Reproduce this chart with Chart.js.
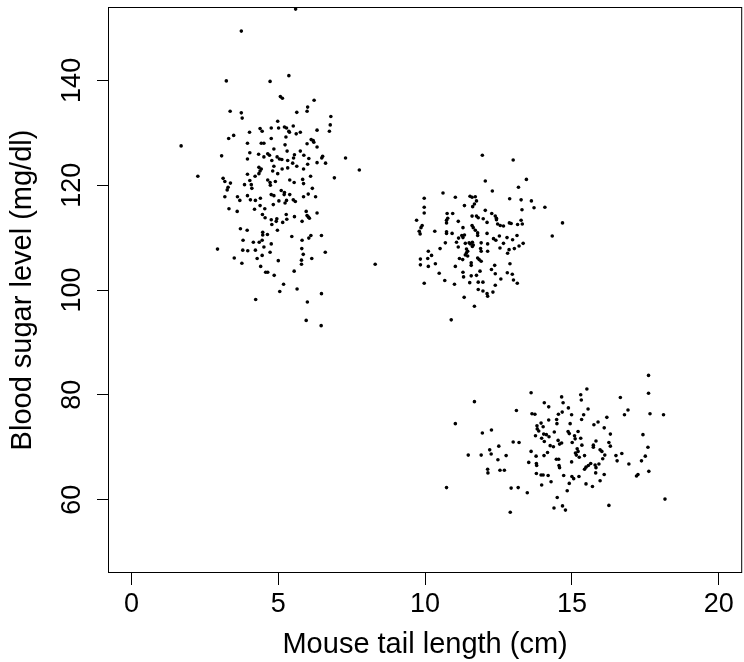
<!DOCTYPE html>
<html>
<head>
<meta charset="utf-8">
<title>Mouse tail length vs blood sugar</title>
<script src="https://cdn.jsdelivr.net/npm/chart.js@4.4.1/dist/chart.umd.min.js"></script>
<style>
  html, body { margin:0; padding:0; background:#fff; }
  #plot { display:block; }
</style>
</head>
<body>
<canvas id="plot" width="744" height="662"></canvas>
<script>
// ---------- DATA ----------
const xTicks = [0, 5, 10, 15, 20];
const yTicks = [60, 80, 100, 120, 140];

// group 1: short tails, high sugar
const tailA = [
  3.74,3.23,3.36,3.74,3.77,1.69,4.38,4.45,4.02,3.48,3.31,3.95,4.42,4.51,3.07,4.03,4.33,4.51,4.64,3.95,4.34,4.42,
  5.59,4.72,5.36,5.07,5.14,6.22,6.00,5.98,5.63,6.79,6.77,6.74,4.98,4.76,5.01,5.21,5.28,5.36,5.38,5.51,5.61,5.75,
  5.26,4.76,6.32,6.12,6.19,6.21,5.98,5.23,6.32,4.85,4.70,5.30,5.75,5.55,5.52,5.87,4.96,5.04,5.12,6.04,6.51,6.48,
  7.29,4.78,5.32,6.32,6.61,5.49,5.63,6.00,4.85,5.13,5.32,5.86,7.76,
  2.26,4.38,3.95,4.21,4.34,3.12,3.18,3.37,4.03,4.08,3.85,4.64,3.29,3.26,4.10,3.18,3.61,3.69,3.95,4.05,4.22,4.39,
  3.32,3.60,4.19,4.38,4.54,4.46,4.55,3.71,3.94,4.47,4.47,4.63,3.80,4.15,4.35,4.45,2.93,3.79,3.96,4.22,4.51,3.50,
  4.28,4.45,3.76,4.40,4.57,4.64,4.23,
  4.81,4.98,6.10,6.91,4.72,4.73,4.90,5.39,5.54,5.83,5.86,6.16,5.10,5.21,5.20,5.39,6.02,5.86,6.27,4.76,4.85,5.02,
  4.83,5.28,5.23,5.51,5.58,5.95,6.32,5.27,4.76,4.78,4.95,4.93,5.15,5.29,5.55,5.98,6.03,6.06,5.81,4.97,5.46,5.81,
  6.04,6.11,6.47,4.76,5.80,4.72,5.85,6.60,6.14,5.79,5.79,5.00,8.30,4.86,5.54,5.18,5.05,5.64,6.47,5.99,5.95,6.46
];
const sugarA = [
  149.4,139.9,134.1,133.8,132.8,127.5,130.8,130.3,130.1,129.5,128.9,128.0,128.0,128.0,125.6,126.2,125.9,125.4,126.0,125.0,123.4,123.1,
  153.6,139.8,140.9,136.9,136.6,136.2,134.9,134.1,133.9,133.1,131.5,130.3,132.2,130.9,130.9,131.1,130.9,130.3,130.1,131.3,129.8,130.1,
  129.2,128.9,130.5,128.7,128.5,128.2,127.9,127.7,127.3,126.9,125.7,126.5,126.5,125.8,125.2,125.7,125.4,125.0,124.9,125.1,125.5,125.2,
  125.2,124.7,124.7,124.3,124.2,124.2,123.6,124.0,123.6,123.1,123.3,123.1,122.9,
  121.7,122.7,122.1,121.7,122.2,121.3,120.7,120.4,120.9,120.1,120.1,121.0,119.6,119.1,119.4,117.8,117.8,117.1,118.0,117.2,117.1,117.5,
  115.5,115.0,115.4,116.1,115.5,114.4,113.8,111.7,111.4,111.0,110.5,110.6,109.5,109.1,109.1,109.5,107.8,107.6,107.5,107.6,108.2,106.1,
  106.0,106.6,105.1,104.5,103.4,103.4,98.2,
  122.7,122.2,121.7,121.4,120.5,120.0,120.7,121.0,120.5,121.1,120.3,119.4,119.0,118.6,118.2,118.2,118.3,117.8,117.8,118.2,118.0,117.0,
  116.3,117.1,116.6,117.2,116.9,115.0,114.7,114.4,113.4,112.5,113.6,113.1,112.9,113.5,114.0,114.2,113.9,113.7,113.1,111.4,110.2,109.5,
  109.9,110.4,110.4,108.8,107.9,107.2,106.8,107.2,106.0,105.7,104.9,105.6,104.9,102.8,103.6,101.1,99.7,100.2,99.3,97.7,94.2,93.2
];

// group 2: medium tails, medium sugar
const tailB = [
  11.95,12.05,10.61,11.03,11.53,11.60,11.71,11.75,9.97,9.97,9.97,11.34,11.62,11.68,12.05,10.75,10.77,10.73,10.73,10.94,
  11.60,11.75,11.81,11.98,12.11,9.71,11.13,9.90,9.86,9.80,9.83,11.60,11.64,11.71,11.29,10.33,10.73,10.73,10.92,11.79,
  11.79,12.11,11.14,11.25,11.34,11.29,11.07,10.69,11.37,11.50,11.61,11.64,11.61,11.54,11.91,12.13,11.13,11.41,11.45,11.41,
  11.37,11.89,11.91,12.13,10.11,10.22,10.09,10.51,11.17,11.28,11.45,11.79,11.84,11.91,9.84,9.84,10.11,10.35,11.57,11.57,
  11.03,11.29,11.31,11.87,10.48,11.57,11.75,10.67,11.00,11.52,11.81,11.97,9.97,11.81,11.97,12.11,12.13,11.33,11.68,10.89,
  13.00,13.45,13.18,12.29,12.88,13.27,13.62,14.08,13.71,13.30,12.27,12.39,12.43,12.43,13.27,13.31,13.15,12.87,12.93,14.68,
  12.47,12.56,12.67,12.33,12.41,12.53,12.79,12.98,13.13,12.67,13.34,14.33,13.20,13.04,12.86,12.81,12.55,12.89,12.37,12.26,
  12.80,12.97,12.39,12.58,13.01,13.14,12.39,12.31
];
const sugarB = [
  125.7,120.8,118.5,117.7,117.9,117.7,117.8,117.0,117.5,115.8,114.7,116.1,115.9,116.4,115.2,114.6,113.7,113.3,112.8,114.6,
  114.1,114.1,113.8,113.6,112.9,113.3,113.1,112.3,111.9,111.2,110.7,112.3,111.9,111.4,111.9,111.2,111.1,110.8,110.8,110.9,
  110.4,110.8,109.9,110.4,110.5,110.0,109.1,109.0,108.9,109.0,109.1,108.6,108.3,108.8,109.0,108.8,108.2,107.8,107.4,107.1,
  106.7,107.9,107.4,107.4,107.4,106.6,106.0,107.9,106.0,105.8,106.5,106.1,105.8,105.5,105.9,104.8,104.5,105.0,105.2,104.7,
  104.5,103.4,102.5,103.6,103.2,102.7,102.8,101.8,101.1,101.4,101.5,101.5,101.3,100.1,99.8,99.3,98.8,98.6,96.9,94.3,
  124.8,121.1,119.6,118.9,117.4,117.2,117.0,115.8,115.7,115.3,114.6,114.1,113.7,113.4,113.3,112.6,112.5,112.8,112.7,112.8,
  112.6,112.3,112.2,109.8,109.5,110.3,110.0,109.6,110.4,108.9,108.9,110.3,108.4,107.9,107.7,107.0,108.0,105.0,104.7,103.9,
  103.3,103.0,103.1,102.1,101.9,101.3,100.9,99.6
];

// group 3: long tails, low sugar
const tailC = [
  13.61,11.68,14.06,14.21,14.65,14.70,14.67,13.11,13.64,13.74,14.54,14.48,14.49,14.21,11.03,13.95,13.81,14.02,13.82,13.87,
  13.76,11.95,12.26,14.04,14.13,14.22,14.40,13.97,14.06,14.53,14.58,14.65,14.26,14.37,13.00,13.20,12.51,12.20,13.61,11.47,
  11.91,12.25,12.76,13.78,14.05,14.17,12.48,13.53,13.79,13.80,14.47,14.55,14.56,14.58,12.13,12.14,12.55,12.70,13.79,13.95,
  14.02,14.19,14.72,14.29,13.97,10.73,12.93,13.17,13.48,14.50,14.68,14.39,12.90,
  17.61,17.61,15.51,15.30,15.32,16.65,14.88,15.55,16.91,16.79,17.66,18.12,14.99,15.40,15.33,16.19,15.75,15.89,14.94,16.10,
  14.87,14.91,15.21,16.31,17.42,15.09,15.11,15.30,15.82,15.01,15.34,15.73,15.73,16.26,16.31,17.59,15.18,15.21,15.12,15.15,
  15.96,16.02,16.12,15.43,15.25,16.50,16.70,17.50,16.05,16.54,17.37,14.99,16.94,15.64,15.56,15.48,15.43,15.79,15.82,15.92,
  17.62,17.25,17.20,15.00,15.06,15.24,15.81,16.10,14.91,15.48,15.70,15.96,14.84,14.78,16.26,18.17
];
const sugarC = [
  80.4,78.7,78.5,77.7,79.6,78.5,76.7,77.0,76.4,76.3,76.3,75.3,74.5,75.2,74.5,74.6,74.1,73.9,73.5,73.1,
  72.2,72.7,73.3,72.5,72.4,72.0,72.9,71.7,71.1,71.3,70.6,70.8,70.3,70.1,71.0,70.9,70.2,69.5,69.2,68.5,
  68.5,68.7,68.4,68.3,68.4,69.0,67.6,67.1,66.9,66.5,67.7,67.7,66.5,66.1,65.8,65.1,65.6,65.6,65.0,64.7,
  64.7,64.6,64.6,63.4,62.8,62.3,62.2,62.3,61.3,60.4,58.8,58.4,57.6,
  83.7,80.3,81.1,80.0,79.0,79.5,77.5,77.3,77.1,76.2,76.4,76.2,76.2,76.2,75.3,75.7,74.3,74.8,74.5,73.7,
  73.0,72.6,73.0,72.5,72.4,72.2,71.6,71.7,71.2,70.9,70.4,70.4,70.0,70.9,70.2,70.0,69.7,69.2,68.9,68.5,
  69.5,69.2,68.5,68.4,68.1,68.4,68.8,68.3,67.8,67.4,67.4,67.2,66.8,66.9,66.5,66.2,65.8,66.6,66.1,66.8,
  65.4,64.8,64.5,64.4,64.0,64.4,65.1,64.8,63.1,63.0,62.5,63.6,61.7,58.0,58.9,60.1
];

// ---------- STYLE ----------
const FONT = "'Liberation Sans', Arial, Helvetica, sans-serif";
const tickSize = 27;
const titleSize = 29;

function pontok(tails, sugars){
  return tails.map((t, i) => ({ x: t, y: sugars[i] }));
}

function pontKeszlet(tails, sugars){
  return {
    data: pontok(tails, sugars),
    backgroundColor: '#000',
    borderWidth: 0,
    pointRadius: 1.8,
    pointHoverRadius: 1.8
  };
}

// R-style frame around the plotting region
const keretPlugin = {
  id: 'keret',
  afterDraw(chart){
    const a = chart.chartArea;
    const ctx = chart.ctx;
    ctx.save();
    ctx.strokeStyle = '#000';
    ctx.lineWidth = 1;
    ctx.strokeRect(a.left + 0.5, a.top + 0.5, a.right - a.left - 1, a.bottom - a.top - 1);
    ctx.restore();
  }
};

// ---------- CHART ----------
new Chart(document.getElementById('plot').getContext('2d'), {
  type: 'scatter',
  data: {
    datasets: [
      pontKeszlet(tailA, sugarA),
      pontKeszlet(tailB, sugarB),
      pontKeszlet(tailC, sugarC)
    ]
  },
  options: {
    responsive: false,
    animation: false,
    devicePixelRatio: 1,
    events: [],
    layout: { padding: { top: 7, right: 1, left: 0, bottom: 0 } },
    plugins: { legend: { display: false }, tooltip: { enabled: false } },
    scales: {
      x: {
        type: 'linear',
        position: 'bottom',
        min: -0.8,
        max: 20.8,
        afterBuildTicks: (s) => { s.ticks = xTicks.map(v => ({ value: v })); },
        afterFit: (s) => { s.height = 89; s.paddingLeft = 0; s.paddingRight = 0; },
        border: { display: false },
        grid: { drawOnChartArea: false, drawTicks: true, tickLength: 12, color: '#000', lineWidth: 1 },
        ticks: { color: '#000', font: { family: FONT, size: tickSize }, padding: 3, maxRotation: 0, minRotation: 0, autoSkip: false },
        title: { display: true, text: 'Mouse tail length (cm)', color: '#000', font: { family: FONT, size: titleSize }, padding: { top: 0, bottom: 0 } }
      },
      y: {
        type: 'linear',
        position: 'left',
        min: 46,
        max: 154,
        afterBuildTicks: (s) => { s.ticks = yTicks.map(v => ({ value: v })); },
        afterFit: (s) => { s.width = 108; s.paddingTop = 0; s.paddingBottom = 0; },
        border: { display: false },
        grid: { drawOnChartArea: false, drawTicks: true, tickLength: 11, color: '#000', lineWidth: 1 },
        ticks: { color: '#000', font: { family: FONT, size: tickSize }, padding: 2, minRotation: 90, maxRotation: 90, crossAlign: 'center', autoSkip: false },
        title: { display: true, text: 'Blood sugar level (mg/dl)', color: '#000', font: { family: FONT, size: titleSize }, padding: { top: 6, bottom: 0 } }
      }
    }
  },
  plugins: [keretPlugin]
});
</script>
</body>
</html>
